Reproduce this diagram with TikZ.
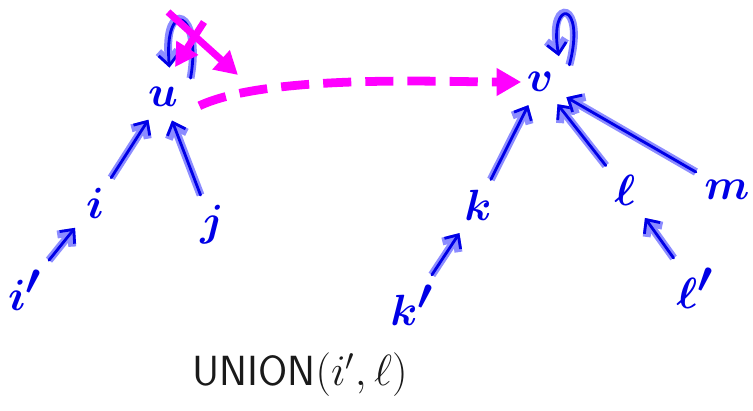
\documentclass[tikz,border=0pt]{standalone}
\usepackage{tikz}
\usetikzlibrary{positioning, arrows.meta}
\definecolor{ink}{HTML}{0000E6}
\definecolor{inkglow}{HTML}{8C8CFF}
\definecolor{hilite}{HTML}{FF00FF}
\definecolor{pencil}{HTML}{1A1A1A}

\begin{document}
\begin{tikzpicture}[
    x=0.02cm, y=0.02cm,
    >={Straight Barb[length=6pt, width=11pt]},
    vert/.style={inner sep=3pt, text=ink, font=\fontsize{34}{40}\selectfont\boldmath},
    ptr/.style={->, ink, line width=1.6pt, line cap=round, line join=round,
                shorten >=5pt, shorten <=3pt,
                preaction={draw, inkglow, line width=4.5pt}},
    selfptr/.style={ptr, shorten >=0pt, shorten <=0pt},
    newptr/.style={-{Triangle[length=14pt, width=15pt]}, hilite, line width=5pt,
                   dash pattern=on 16pt off 8pt},
    strike/.style={-{Triangle[length=13pt, width=14pt]}, hilite, line width=4pt},
    caption/.style={text=pencil, font=\fontsize{24}{28}\selectfont\sffamily},
]
\useasboundingbox (0,0) rectangle (753,410);

% left tree, rooted at u
\node[vert] (u)  at (163,313) {$u$};
\node[vert] (i)  at (95,207)  {$i$};
\node[vert] (ip) at (25,120)  {$i'$};
\node[vert] (j)  at (212,185) {$j$};

% right tree, rooted at v
\node[vert] (v)  at (540,328) {$v$};
\node[vert] (k)  at (478,205) {$k$};
\node[vert] (kp) at (412,105) {$k'$};
\node[vert] (l)  at (625,220) {$\ell$};
\node[vert] (lp) at (695,122) {$\ell'$};
\node[vert] (m)  at (727,220) {$m$};

% parent pointers
\draw[ptr] (ip) -- (i);
\draw[ptr] (i) -- (u);
\draw[ptr] (j) -- (u);
\draw[ptr] (kp) -- (k);
\draw[ptr] (k) -- (v);
\draw[ptr] (l) -- (v);
\draw[ptr] (lp) -- (l);
\draw[ptr] (m) -- (v);

% roots point to themselves
\draw[selfptr] ([shift={(4pt,2pt)}]u.north east)
    .. controls +(80:40pt) and +(95:40pt) .. ([shift={(-8pt,8pt)}]u.north east);
\draw[selfptr] ([shift={(6pt,1pt)}]v.north east)
    .. controls +(75:38pt) and +(100:34pt) .. ([shift={(0pt,6pt)}]v.north east);

% u's self pointer crossed out
\coordinate (xa) at (168,398);
\coordinate (xb) at (238,335);
\coordinate (ya) at (204,388);
\coordinate (yb) at (175,343);
\draw[strike] (xa) -- (xb);
\draw[strike] (ya) -- (yb);

% new pointer after the union
\draw[newptr] ([shift={(9pt,-5pt)}]u.east) to[out=25, in=180, looseness=0.6] (v.west);

\node[caption] (op) at (300,35) {UNION$(i',\ell)$};

\end{tikzpicture}
\end{document}
